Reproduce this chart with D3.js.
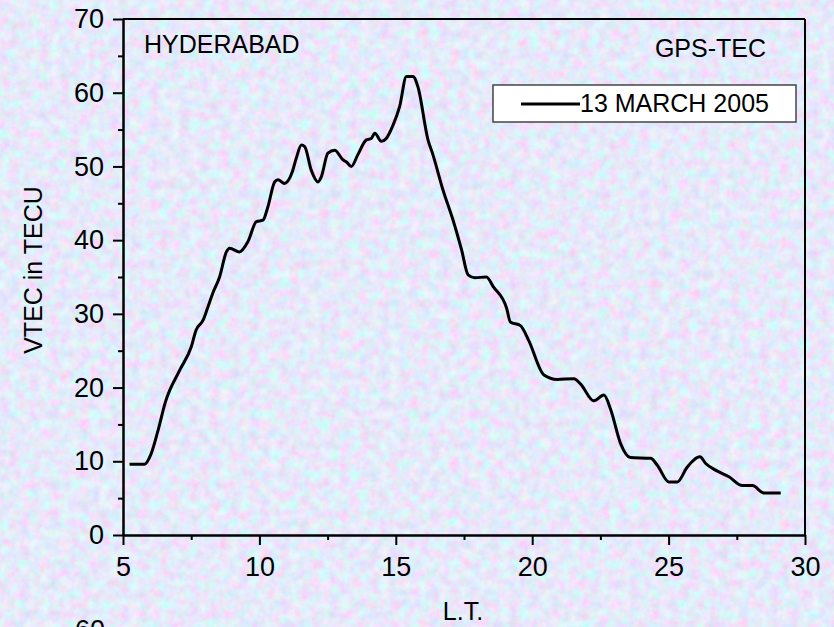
<!DOCTYPE html>
<html>
<head>
<meta charset="utf-8">
<script src="https://cdn.jsdelivr.net/npm/d3@7"></script>
<style>
  html, body { margin: 0; padding: 0; }
  body { width: 834px; height: 627px; overflow: hidden; }
  text { font-family: "Liberation Sans", Arial, sans-serif; fill: #000; }
</style>
</head>
<body>
<svg id="chart" width="834" height="627"></svg>
<script>
// local time (hours) and VTEC
var lt = [5.24, 5.79, 6.03, 6.3, 6.55, 7.07, 7.5, 7.68, 7.93, 8.11, 8.29, 8.54, 8.79, 8.91, 9.27, 9.58, 9.89, 10.13, 10.31, 10.56,
  10.68, 10.92, 11.21, 11.35, 11.54, 11.66, 11.9, 12.15, 12.27, 12.51, 12.76, 13.06, 13.19, 13.37, 13.61, 13.92, 14.1, 14.23, 14.47, 14.65,
  14.9, 15.14, 15.39, 15.63, 15.81, 16.18, 16.36, 16.73, 17.1, 17.41, 17.65, 17.9, 18.32, 18.57, 19.06, 19.2, 19.57, 19.87, 20.43, 20.91,
  21.53, 21.77, 22.26, 22.63, 22.87, 23.24, 23.6, 24.34, 24.58, 25.01, 25.32, 25.68, 26.15, 26.36, 26.72, 27.21, 27.7, 28.07, 28.5, 29.11];
var vtec = [9.6, 9.6, 11.0, 14.4, 18.0, 22.3, 25.5, 27.8, 29.1, 30.9, 32.8, 35.0, 38.4, 38.9, 38.4, 39.8, 42.5, 42.7, 44.5, 47.9,
  48.2, 47.7, 49.3, 51.1, 52.9, 52.7, 49.5, 47.9, 48.6, 51.8, 52.2, 50.9, 50.6, 50.0, 51.6, 53.6, 53.8, 54.5, 53.4, 53.8,
  55.6, 58.1, 62.2, 62.2, 60.8, 53.6, 51.6, 46.8, 42.7, 38.7, 35.3, 34.9, 35.0, 33.7, 30.8, 28.9, 28.4, 26.4, 21.7, 21.1,
  21.2, 20.5, 18.2, 19.0, 17.1, 12.4, 10.5, 10.4, 9.5, 7.2, 7.2, 9.2, 10.6, 9.7, 8.8, 7.9, 6.7, 6.7, 5.7, 5.7];

var xTicks = [5, 10, 15, 20, 25, 30];
var xMinor = [7.5, 12.5, 17.5, 22.5, 27.5];
var yTicks = [0, 10, 20, 30, 40, 50, 60, 70];
var yMinor = [5, 15, 25, 35, 45, 55, 65];

var seriesName = "13 MARCH 2005";
var station = "HYDERABAD";
var source = "GPS-TEC";

var margin = {top: 19, right: 29, bottom: 92, left: 123};
var W = 834, H = 627;
var width = W - margin.left - margin.right;
var height = H - margin.top - margin.bottom;

var svg = d3.select("#chart");

// pastel marble background (periwinkle with faint pink / cyan blotches)
var defs = svg.append("defs");
var f = defs.append("filter").attr("id", "marble")
  .attr("x", 0).attr("y", 0).attr("width", "100%").attr("height", "100%");
f.append("feTurbulence").attr("type", "fractalNoise")
  .attr("baseFrequency", 0.1).attr("numOctaves", 3).attr("seed", 7);
f.append("feColorMatrix").attr("type", "matrix")
  .attr("values", "0.55 -0.25 0 0 0.64  -0.2 0.5 0 0 0.67  0 0 0.25 0 0.83  0 0 0 0 1");
svg.append("rect").attr("width", W).attr("height", H).attr("fill", "#c6cff4");
svg.append("rect").attr("width", W).attr("height", H).attr("filter", "url(#marble)");

var x = d3.scaleLinear().domain([5, 30]).range([0, width]);
var y = d3.scaleLinear().domain([0, 70]).range([height, 0]);

var g = svg.append("g")
  .attr("transform", "translate(" + margin.left + "," + margin.top + ")");

// x axis
g.append("g")
  .attr("transform", "translate(0," + height + ")")
  .call(d3.axisBottom(x).tickValues(xTicks).tickSize(10).tickSizeOuter(0).tickPadding(12));
g.append("g")
  .attr("transform", "translate(0," + height + ")")
  .call(d3.axisBottom(x).tickValues(xMinor).tickSize(5).tickSizeOuter(0).tickFormat(""));

// y axis
g.append("g")
  .call(d3.axisLeft(y).tickValues(yTicks).tickSize(10).tickSizeOuter(0).tickPadding(9));
g.append("g")
  .call(d3.axisLeft(y).tickValues(yMinor).tickSize(5).tickSizeOuter(0).tickFormat(""));

g.selectAll(".domain, .tick line").attr("stroke", "#000").attr("stroke-width", 2);
g.selectAll(".tick text").style("font-size", "27px")
  .style("font-family", "'Liberation Sans', Arial, sans-serif").attr("fill", "#000");

// frame top and right
g.append("line").attr("x1", 0).attr("x2", width).attr("y1", 0).attr("y2", 0)
  .attr("stroke", "#000").attr("stroke-width", 2);
g.append("line").attr("x1", width).attr("x2", width).attr("y1", 0).attr("y2", height)
  .attr("stroke", "#000").attr("stroke-width", 2);

// curve
var data = lt.map(function(d, i) { return [d, vtec[i]]; });
var line = d3.line()
  .x(function(d) { return x(d[0]); })
  .y(function(d) { return y(d[1]); })
  .curve(d3.curveMonotoneX);
g.append("path").datum(data)
  .attr("d", line)
  .attr("fill", "none")
  .attr("stroke", "#000")
  .attr("stroke-width", 3)
  .attr("stroke-linejoin", "round");

// labels inside plot
g.append("text").attr("x", 21).attr("y", 34)
  .style("font-size", "25px").text(station);
g.append("text").attr("x", 643).attr("y", 38)
  .attr("text-anchor", "end").style("font-size", "25px").text(source);

// legend
var leg = g.append("g").attr("transform", "translate(370,66)");
leg.append("rect").attr("width", 303).attr("height", 37)
  .attr("fill", "#fff").attr("stroke", "#444").attr("stroke-width", 1.5);
leg.append("line").attr("x1", 28).attr("x2", 87).attr("y1", 19).attr("y2", 19)
  .attr("stroke", "#000").attr("stroke-width", 3);
leg.append("text").attr("x", 87).attr("y", 27)
  .style("font-size", "25px").text(seriesName);

// axis titles
svg.append("text").attr("x", 463).attr("y", 620)
  .attr("text-anchor", "middle").style("font-size", "25px").text("L.T.");
svg.append("text")
  .attr("transform", "translate(42,270) rotate(-90)")
  .attr("text-anchor", "middle").style("font-size", "25px").text("VTEC in TECU");

// top of the next panel's tick label, cut off at the bottom edge as in the source
svg.append("text").attr("x", 105).attr("y", 639)
  .attr("text-anchor", "end").style("font-size", "27px").text("60");
</script>
</body>
</html>
